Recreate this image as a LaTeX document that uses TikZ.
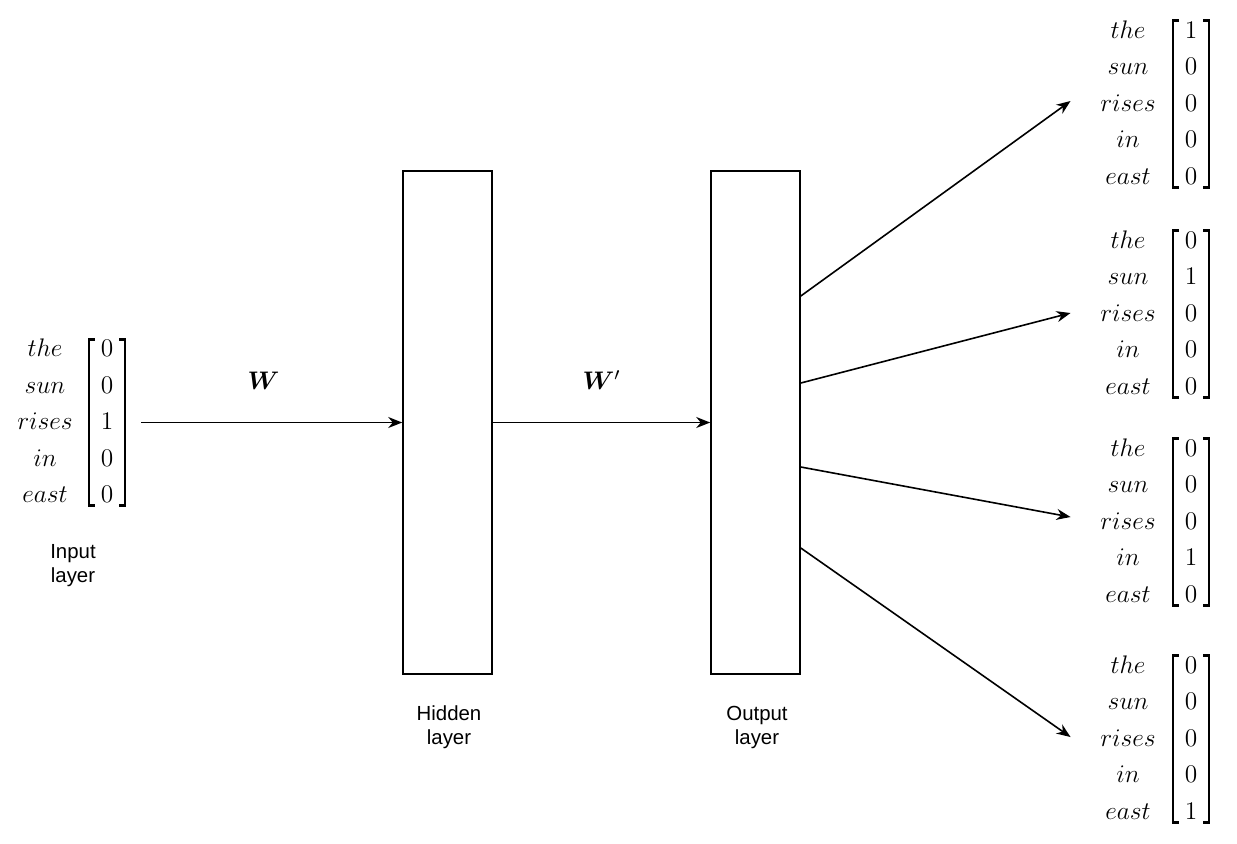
\RequirePackage{fix-cm}
\documentclass[tikz,border=0pt]{standalone}
\usepackage{fontspec}
\setsansfont{Liberation Sans}
\usepackage{bm}
\usetikzlibrary{arrows.meta}

\begin{document}
\begin{tikzpicture}[x=0.5pt,y=-0.5pt,line width=0.8pt,
  arr/.style={-{Stealth[length=7pt,width=5.5pt]}},
  vec/.style={inner sep=0pt,font=\fontsize{12.7}{15.24}\selectfont},
  brk/.style={line width=1.3pt},
  layer/.style={draw,minimum width=44.5pt,minimum height=251.5pt,inner sep=0pt},
  lbl/.style={align=center,font=\sffamily\fontsize{10.2}{12}\selectfont}]
% column of words and column of values
\def\words{$\renewcommand{\arraystretch}{1.2}\setlength{\arraycolsep}{5.5pt}%
  \begin{array}{c}the\\sun\\rises\\in\\east\end{array}$}
\def\onehot#1#2#3#4#5{$\renewcommand{\arraystretch}{1.2}\setlength{\arraycolsep}{5.5pt}%
  \begin{array}{c}#1\\#2\\#3\\#4\\#5\end{array}$}

% fix the page size
\useasboundingbox (0,0) rectangle (1237,843);

% input vector
\node[vec] (inw) at (45,422.5) {\words};
\node[vec] (inv) at (107,422.5) {\onehot{0}{0}{1}{0}{0}};

% hidden and output layers
\node[layer] (hidden) at (447.5,422.5) {};
\node[layer] (output) at (755.5,422.5) {};

% layer names
\node[lbl] (inlab) at (73,566) {Input\\layer};
\node[lbl] (hidlab) at (449,727) {Hidden\\layer};
\node[lbl] (outlab) at (757,727) {Output\\layer};

% weights between the layers
\draw[arr,shorten <=8pt] (inv.east) -- node[vec,above=16pt] {$\bm{W}$} (hidden.west);
\draw[arr] (hidden.east) -- node[vec,above=16pt] {$\bm{W}'$} (output.west);

% output vectors
\node[vec] (ow1) at (1128,104) {\words};
\node[vec] (ov1) at (1191,104) {\onehot{1}{0}{0}{0}{0}};
\node[vec] (ow2) at (1128,314) {\words};
\node[vec] (ov2) at (1191,314) {\onehot{0}{1}{0}{0}{0}};
\node[vec] (ow3) at (1128,522) {\words};
\node[vec] (ov3) at (1191,522) {\onehot{0}{0}{0}{1}{0}};
\node[vec] (ow4) at (1128,739) {\words};
\node[vec] (ov4) at (1191,739) {\onehot{0}{0}{0}{0}{1}};

% square brackets round the values
\foreach \v in {inv,ov1,ov2,ov3,ov4} {
  \draw[brk] ([xshift=3pt,yshift=-4.5pt]\v.north west) -| ([yshift=4.5pt]\v.south west) -- ++(3pt,0);
  \draw[brk] ([xshift=-3pt,yshift=-4.5pt]\v.north east) -| ([yshift=4.5pt]\v.south east) -- ++(-3pt,0);
}

% arrows to the output vectors
\draw[arr] ([yshift=63.25pt]output.east) -- ([xshift=-9pt,yshift=1.5pt]ow1.west);
\draw[arr] ([yshift=19.75pt]output.east) -- ([xshift=-9pt,yshift=0.5pt]ow2.west);
\draw[arr] ([yshift=-22.25pt]output.east) -- ([xshift=-9pt,yshift=2.5pt]ow3.west);
\draw[arr] ([yshift=-62.75pt]output.east) -- ([xshift=-9pt,yshift=1pt]ow4.west);

\end{tikzpicture}
\end{document}
